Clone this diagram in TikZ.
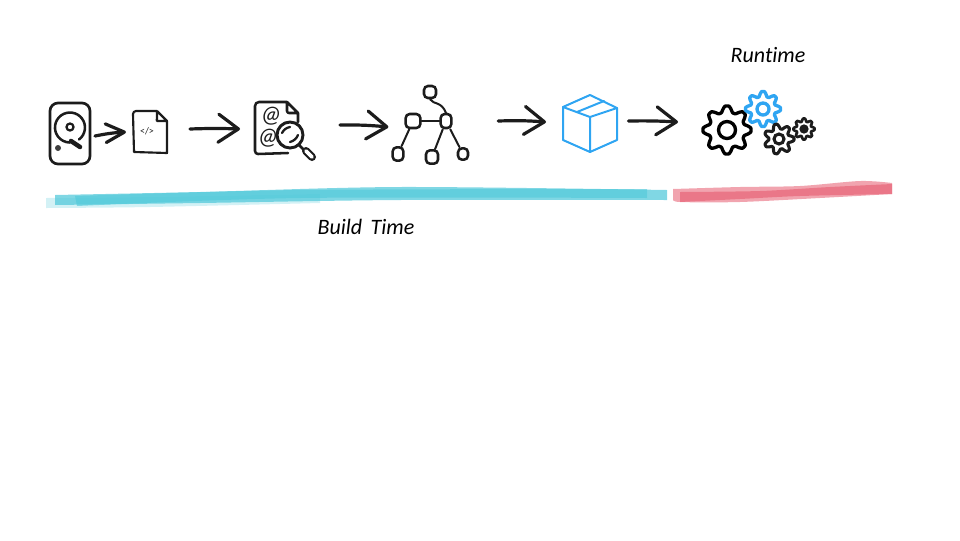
\documentclass[tikz,border=0pt]{standalone}
\usepackage{fontspec}
\setmainfont[WordSpace=1.7,Ligatures=NoCommon]{Carlito}
\usetikzlibrary{arrows.meta,calc}
\definecolor{ink}{HTML}{1C1C1C}
\definecolor{boxblue}{HTML}{2FA5F2}
\definecolor{barteal}{HTML}{4FC8D9}
\definecolor{barred}{HTML}{E8687A}
\tikzset{
  inkline/.style={draw=ink,line width=1.9pt,line cap=round,line join=round},
  holder/.style={inner sep=0pt,outer sep=0pt,rectangle},
  sketcharrow/.style={draw=ink,line width=2.4pt,line cap=round,
    -{Straight Barb[length=15pt,width=21pt,line width=2.4pt,round]}},
  smallarrow/.style={draw=ink,line width=2.4pt,line cap=round,
    -{Straight Barb[length=14pt,width=14pt,line width=2.4pt,round]}},
  treebox/.style={draw=ink,line width=1.9pt,rectangle,rounded corners=3pt,inner sep=0pt},
  treeedge/.style={draw=ink,line width=1.5pt,line cap=round},
  boxline/.style={draw=boxblue,line width=1.5pt,line join=round,line cap=round},
  hand/.style={font=\itshape\fontsize{16.5pt}{18pt}\selectfont,text=black},
  atsign/.style={holder,font=\itshape\fontsize{18pt}{18pt}\selectfont,text=ink},
}
\newcommand{\sketchgear}[8]{% cx cy R a teeth colour inner-radius width
  \draw[draw=#6,line width=#8,line join=round,shift={(#1,#2)}]
    plot[domain=0:360,samples=241,variable=\t]
      (\t:{#3-#4+#4*max(-1,min(1,1.2*cos(#5*\t)))}) -- cycle;
  \draw[draw=#6,line width=#8] (#1,#2) circle[radius=#7];
}
\begin{document}
\begin{tikzpicture}[x=0.75pt,y=-0.75pt]
\useasboundingbox (0,0) rectangle (960,540);

% highlight bars
\fill[barteal,opacity=.25] plot[smooth] coordinates {(46,198) (150,197) (320,194)}
  -- plot[smooth] coordinates {(320,203) (150,207) (46,208)} -- cycle;
\fill[barteal,opacity=.72] plot[smooth] coordinates {(55,195) (200,192) (400,187) (667,190)}
  -- plot[smooth] coordinates {(667,200) (400,200) (200,203) (55,205)} -- cycle;
\fill[barteal,opacity=.6] plot[smooth] coordinates {(75,196) (300,190) (647,189)}
  -- plot[smooth] coordinates {(647,198) (300,198) (77,206)} -- cycle;

\fill[barred,opacity=.6] plot[smooth] coordinates {(673,189) (740,187) (800,186) (860,181) (892,183)}
  -- plot[smooth] coordinates {(892,194) (820,198) (740,202) (680,202) (673,199)} -- cycle;
\fill[barred,opacity=.75] plot[smooth] coordinates {(680,192) (760,191) (830,187) (892,184)}
  -- plot[smooth] coordinates {(892,194) (800,196) (740,199) (680,202)} -- cycle;

% disk
\node[holder,draw=ink,line width=2pt,rounded corners=6pt,minimum width=30pt,minimum height=45.75pt] (disk) at (70,133.5) {};
\draw[inkline] (79,139.5) arc[start angle=53,end angle=-270,radius=15];
\draw[draw=ink,line width=1.7pt] (70,127) circle[radius=3.5];
\draw[draw=ink,line width=3.4pt,line cap=round] (71,141) -- (80,147);
\fill[ink!85] (58,148) circle[radius=3];

% file
\node[holder,minimum width=25.5pt,minimum height=31.5pt] (file) at (150,132) {};
\draw[inkline,line width=1.6pt] (157,111) -- (136,111) to[out=180,in=90] (133,114) -- (134,152) -- (167,153) -- (167,121) -- (157,111)
  (157,111) -- (157,119) to[out=90,in=180] (157,121) -- (167,121);
\node[holder,font=\fontsize{7.5pt}{8pt}\selectfont,text=ink] (code) at (147,131) {</>};

% document with magnifier
\node[holder,minimum width=45pt,minimum height=42pt] (doc) at (285,128) {};
\draw[inkline] (287,102) -- (259,102) to[out=180,in=90] (255,106) -- (255,151) to[out=-90,in=180] (258,154) -- (288,153)
  (287,102) -- (298,113) -- (298,122)
  (287,102) -- (287,111) to[out=-90,in=180] (289,113) -- (298,113);
\node[atsign] (at1) at (271,116) {@};
\node[atsign] (at2) at (268,138) {@};
\draw[inkline,line width=2pt] (299,145) -- (304,150);
\draw[draw=ink,line width=6pt,line cap=round] (306,151) -- (312,157);
\draw[draw=white,line width=2.8pt,line cap=round] (306,151) -- (312,157);
\draw[draw=ink,fill=white,line width=2.2pt] (290,135) circle[radius=13];
\draw[inkline,line width=1.7pt] (282,133) to[bend left=25] (290,127)
  (290,142) to[bend right=25] (298,135);

% dependency tree
\node[treebox,minimum width=9pt,minimum height=9pt] (t0) at (430,92) {};
\node[treebox,minimum width=11pt,minimum height=10.5pt] (t1) at (413,121) {};
\node[treebox,minimum width=8pt,minimum height=10.5pt] (t2) at (446,121) {};
\node[treebox,minimum width=8pt,minimum height=10pt] (t3) at (398,154) {};
\node[treebox,minimum width=9pt,minimum height=10pt] (t4) at (432,157) {};
\node[treebox,minimum width=7.5pt,minimum height=8.5pt] (t5) at (463,154) {};
\draw[treeedge] (t0.south) .. controls (434,105) and (441,101) .. (t2.north);
\draw[treeedge] (t1) -- (t2);
\draw[treeedge] (t1) -- (t3);
\draw[treeedge] (t2) -- (t4);
\draw[treeedge] (t2) -- (t5);

% package
\node[holder,minimum width=40.5pt,minimum height=42.75pt] (pack) at (590,123.5) {};
\draw[boxline] (590,95) -- (617,108) -- (617,140) -- (590,152) -- (563,140) -- (563,107) -- cycle;
\draw[boxline] (563,107) -- (590,117) -- (617,108) (590,117) -- (590,152) (577,112) -- (604,101);

% gears
\node[holder,minimum width=60pt,minimum height=45pt] (gears) at (733,122) {};
\sketchgear{727}{130}{24}{3}{8}{black}{8.5}{2.5pt}
\sketchgear{763}{109}{17.5}{2.4}{8}{boxblue}{6}{2.5pt}
\sketchgear{779}{139}{15}{2.4}{7}{ink}{5}{2.3pt}
\sketchgear{804}{129}{10.5}{1.4}{8}{ink}{3.2}{2pt}
\fill[ink] (804,129) circle[radius=3];

% arrows
\draw[smallarrow] ($(disk.east)+(5,2.5)$) to[bend left=4] ($(file.west)+(-7,0)$);
\draw[sketcharrow] ($(file.east)+(23,-3)$) to[bend left=2] ($(doc.west)+(-15,1)$);
\draw[sketcharrow] ($(doc.east)+(25,-3)$) to[bend left=3] ($(t1.west)+(-16,6)$);
\draw[sketcharrow] ($(t5.east)+(29,-33)$) to[bend left=3] ($(pack.west)+(-17,-1.5)$);
\draw[sketcharrow] ($(pack.east)+(11.5,-2.5)$) to[bend left=2] ($(gears.west)+(-15,0)$);

% labels
\node[hand] (runtime) at (768,55) {Runtime};
\node[hand] (buildtime) at (366,227) {Build Time};
\end{tikzpicture}
\end{document}
